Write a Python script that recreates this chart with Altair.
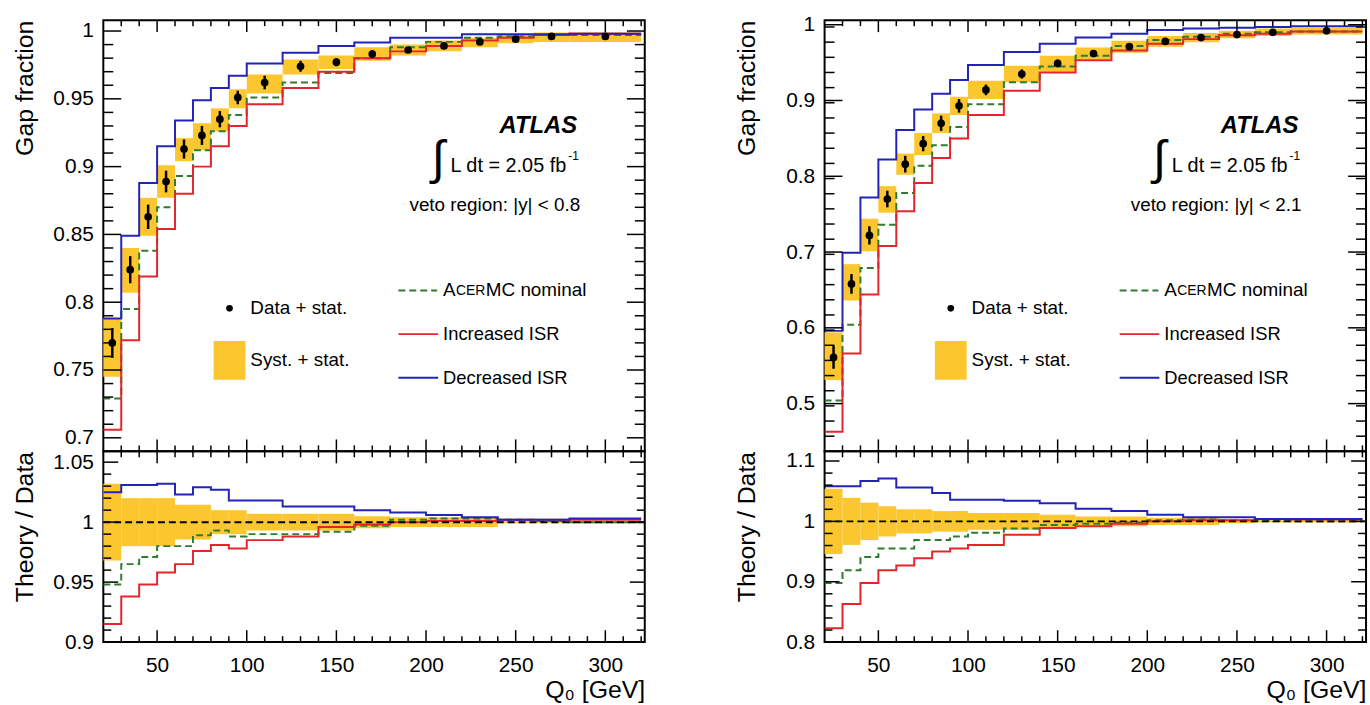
import altair as alt
import pandas as pd

FONT = "Liberation Sans, Arial, Helvetica, sans-serif"
YELLOW = "#FCC62E"
RED = "#E3262B"
BLUE = "#2323B8"
GREEN = "#2E7D2E"

W, HT, HR = 545, 434, 192
XDOM = [20, 322]

# ---------------- data ----------------
Q0 = [25, 35, 45, 55, 65, 75, 85, 95, 110, 130, 150, 170, 190, 210, 230, 250, 270, 300]
bin_lo = [20, 30, 40, 50, 60, 70, 80, 90, 100, 120, 140, 160, 180, 200, 220, 240, 260, 280]
bin_hi = [30, 40, 50, 60, 70, 80, 90, 100, 120, 140, 160, 180, 200, 220, 240, 260, 280, 320]

# veto region |y| < 0.8
L_data = [0.770, 0.824, 0.863, 0.889, 0.913, 0.923, 0.935, 0.951, 0.962, 0.974, 0.977, 0.983, 0.986, 0.989, 0.992, 0.994, 0.996, 0.996]
L_stat = [0.011, 0.010, 0.009, 0.008, 0.007, 0.007, 0.006, 0.005, 0.005, 0.004, 0.003, 0.003, 0.002, 0.002, 0.002, 0.002, 0.002, 0.002]
L_band_lo = [0.745, 0.807, 0.849, 0.877, 0.904, 0.912, 0.926, 0.943, 0.954, 0.968, 0.972, 0.978, 0.982, 0.985, 0.988, 0.991, 0.992, 0.992]
L_band_hi = [0.788, 0.840, 0.877, 0.901, 0.921, 0.932, 0.943, 0.957, 0.968, 0.979, 0.982, 0.988, 0.990, 0.993, 0.995, 0.997, 0.999, 0.999]
L_nom = [0.729, 0.795, 0.838, 0.870, 0.893, 0.912, 0.926, 0.938, 0.951, 0.962, 0.969, 0.980, 0.988, 0.992, 0.995, 0.996, 0.997, 0.997]
L_isr_up = [0.706, 0.772, 0.819, 0.854, 0.880, 0.900, 0.915, 0.930, 0.946, 0.958, 0.970, 0.980, 0.985, 0.989, 0.993, 0.995, 0.997, 0.998]
L_isr_down = [0.788, 0.849, 0.888, 0.915, 0.934, 0.949, 0.958, 0.967, 0.976, 0.984, 0.989, 0.9915, 0.995, 0.995, 0.9976, 0.9976, 0.9976, 0.998]
L_r_band_lo = [0.968, 0.980, 0.980, 0.980, 0.9855, 0.9855, 0.990, 0.990, 0.993, 0.993, 0.993, 0.995, 0.996, 0.996, 0.996, 0.999, 0.999, 0.999]
L_r_band_hi = [1.032, 1.020, 1.020, 1.020, 1.0145, 1.0145, 1.010, 1.010, 1.007, 1.007, 1.007, 1.005, 1.004, 1.004, 1.004, 1.001, 1.001, 1.001]
L_r_nom = [0.948, 0.965, 0.971, 0.980, 0.980, 0.989, 0.993, 0.988, 0.990, 0.990, 0.992, 0.997, 1.002, 1.003, 1.003, 1.002, 1.001, 1.000]
L_r_isr_up = [0.915, 0.938, 0.948, 0.958, 0.965, 0.976, 0.981, 0.978, 0.985, 0.988, 0.996, 0.998, 1.000, 1.001, 1.001, 1.002, 1.002, 1.002]
L_r_isr_down = [1.025, 1.031, 1.031, 1.032, 1.023, 1.029, 1.027, 1.018, 1.018, 1.013, 1.013, 1.010, 1.008, 1.006, 1.004, 1.002, 1.002, 1.003]

# veto region |y| < 2.1
R_data = [0.561, 0.658, 0.722, 0.770, 0.816, 0.843, 0.870, 0.893, 0.914, 0.935, 0.949, 0.962, 0.971, 0.978, 0.983, 0.987, 0.990, 0.992]
R_stat = [0.015, 0.013, 0.012, 0.011, 0.011, 0.010, 0.010, 0.009, 0.007, 0.006, 0.005, 0.004, 0.004, 0.003, 0.003, 0.002, 0.002, 0.002]
R_band_lo = [0.531, 0.636, 0.701, 0.752, 0.802, 0.828, 0.857, 0.881, 0.902, 0.924, 0.938, 0.954, 0.963, 0.971, 0.977, 0.982, 0.985, 0.987]
R_band_hi = [0.594, 0.684, 0.744, 0.787, 0.830, 0.857, 0.883, 0.905, 0.926, 0.946, 0.959, 0.970, 0.979, 0.985, 0.989, 0.992, 0.995, 0.996]
R_nom = [0.504, 0.604, 0.679, 0.736, 0.778, 0.814, 0.841, 0.865, 0.895, 0.924, 0.945, 0.959, 0.972, 0.980, 0.984, 0.988, 0.990, 0.991]
R_isr_up = [0.463, 0.566, 0.644, 0.708, 0.754, 0.791, 0.824, 0.850, 0.881, 0.913, 0.937, 0.953, 0.966, 0.975, 0.981, 0.986, 0.988, 0.991]
R_isr_down = [0.596, 0.699, 0.772, 0.822, 0.861, 0.888, 0.909, 0.927, 0.947, 0.964, 0.975, 0.983, 0.988, 0.993, 0.995, 0.996, 0.997, 0.998]
R_r_band_lo = [0.946, 0.961, 0.969, 0.975, 0.980, 0.980, 0.983, 0.983, 0.986, 0.986, 0.989, 0.992, 0.992, 0.994, 0.994, 0.997, 0.998, 0.998]
R_r_band_hi = [1.054, 1.039, 1.031, 1.025, 1.020, 1.020, 1.017, 1.017, 1.014, 1.014, 1.011, 1.008, 1.008, 1.006, 1.006, 1.003, 1.002, 1.002]
R_r_nom = [0.898, 0.919, 0.941, 0.955, 0.955, 0.969, 0.969, 0.975, 0.981, 0.988, 0.994, 0.996, 0.998, 1.002, 1.003, 1.002, 1.001, 1.000]
R_r_isr_up = [0.823, 0.863, 0.898, 0.919, 0.927, 0.939, 0.950, 0.955, 0.961, 0.978, 0.989, 0.992, 0.996, 1.000, 1.002, 1.002, 1.004, 1.003]
R_r_isr_down = [1.058, 1.058, 1.067, 1.071, 1.056, 1.056, 1.047, 1.036, 1.036, 1.034, 1.030, 1.021, 1.017, 1.011, 1.007, 1.007, 1.004, 1.004]

X_MAJOR = [50, 100, 150, 200, 250, 300]
X_MINOR = [v for v in range(30, 321, 10) if v % 50 != 0]


# ---------------- helpers ----------------
def step_df(vals):
    return pd.DataFrame({"x": bin_lo + [bin_hi[-1]], "v": list(vals) + [vals[-1]]})


def one():
    return alt.Data(values=[{"k": 0}])


def txt(s, x, y, size, align="left", **kw):
    return alt.Chart(one()).mark_text(
        text=s, align=align, baseline="middle", fontSize=size, font=FONT, color="black", **kw
    ).encode(x=alt.value(x), y=alt.value(y))


def minor_ticks(lo, hi, step, majors):
    out = []
    n = int(round((hi - lo) / step))
    for i in range(n + 1):
        v = round(lo + i * step, 4)
        if lo < v < hi and all(abs(v - m) > 1e-6 for m in majors):
            out.append(v)
    return out


class Enc:
    """Holds the shared x / y encodings (same scale and axis) for one panel."""

    def __init__(self, xs, xaxis, ys, yaxis):
        self.xs, self.xaxis, self.ys, self.yaxis = xs, xaxis, ys, yaxis

    def X(self, f):
        return alt.X(f, scale=self.xs, axis=self.xaxis)

    def Y(self, f):
        return alt.Y(f, scale=self.ys, axis=self.yaxis)


def y_ticks(vals, e, length, width):
    df = pd.DataFrame({"t": vals})
    base = alt.Chart(df).mark_rule(color="black", strokeWidth=1.5)
    return [
        base.encode(y=e.Y("t:Q"), x=alt.value(0), x2=alt.value(length)),
        base.encode(y=e.Y("t:Q"), x=alt.value(width), x2=alt.value(width - length)),
    ]


def x_ticks(vals, e, length, height):
    df = pd.DataFrame({"t": vals})
    base = alt.Chart(df).mark_rule(color="black", strokeWidth=1.5)
    return [
        base.encode(x=e.X("t:Q"), y=alt.value(height), y2=alt.value(height - length)),
        base.encode(x=e.X("t:Q"), y=alt.value(0), y2=alt.value(length)),
    ]


def hist_line(vals, e, color, dash=None, width=2):
    kw = {}
    if dash:
        kw["strokeDash"] = dash
    return alt.Chart(step_df(vals)).mark_line(
        interpolate="step-after", color=color, strokeWidth=width, clip=True, **kw
    ).encode(x=e.X("x:Q"), y=e.Y("v:Q"))


def top_panel(data, stat, blo, bhi, nom, up, down, ydom, ymaj, ystep, veto):
    xs = alt.Scale(domain=XDOM, nice=False, zero=False)
    ys = alt.Scale(domain=ydom, nice=False, zero=False)
    yaxis = alt.Axis(values=ymaj, format=".2~f", title="Gap fraction", titleAnchor="end",
                     titleX=-66)
    e = Enc(xs, None, ys, yaxis)
    df = pd.DataFrame({"lo": bin_lo, "hi": bin_hi, "q": Q0, "d": data,
                       "blo": blo, "bhi": bhi})
    df["elo"] = [d - s for d, s in zip(data, stat)]
    df["ehi"] = [d + s for d, s in zip(data, stat)]
    band = alt.Chart(df).mark_rect(color=YELLOW, opacity=1).encode(
        x=e.X("lo:Q"), x2="hi:Q", y=e.Y("blo:Q"), y2="bhi:Q")
    err = alt.Chart(df).mark_rule(color="black", strokeWidth=2.5).encode(
        x=e.X("q:Q"), y=e.Y("elo:Q"), y2="ehi:Q")
    pts = alt.Chart(df).mark_point(shape="circle", filled=True, size=60, color="black", opacity=1).encode(
        x=e.X("q:Q"), y=e.Y("d:Q"))
    layers = [band,
              hist_line(nom, e, GREEN, dash=[7, 4]),
              hist_line(up, e, RED),
              hist_line(down, e, BLUE),
              err, pts]
    layers += y_ticks(ymaj, e, 18, W)
    layers += y_ticks(minor_ticks(ydom[0], ydom[1], ystep, ymaj), e, 10, W)
    layers += x_ticks(X_MAJOR, e, 12, HT)
    layers += x_ticks(X_MINOR, e, 6, HT)
    # annotations
    layers += [
        alt.Chart(one()).mark_point(shape="circle", filled=True, size=45, color="black", opacity=1).encode(
            x=alt.value(127), y=alt.value(290)),
        txt("Data + stat.", 148, 290, 19),
        alt.Chart(one()).mark_rect(color=YELLOW).encode(
            x=alt.value(111), x2=alt.value(143), y=alt.value(323), y2=alt.value(362)),
        txt("Syst. + stat.", 148, 342, 19),
        alt.Chart(one()).mark_rule(color=GREEN, strokeWidth=2, strokeDash=[7, 4]).encode(
            x=alt.value(297), x2=alt.value(336), y=alt.value(272)),
        txt("A", 342, 272, 19),
        txt("CER", 355, 273, 14),
        txt("MC nominal", 385, 272, 19),
        alt.Chart(one()).mark_rule(color=RED, strokeWidth=2).encode(
            x=alt.value(297), x2=alt.value(337), y=alt.value(316)),
        txt("Increased ISR", 342, 316, 18.5),
        alt.Chart(one()).mark_rule(color=BLUE, strokeWidth=2).encode(
            x=alt.value(297), x2=alt.value(337), y=alt.value(360)),
        txt("Decreased ISR", 342, 360, 18.5),
        txt("ATLAS", 477, 107, 24, align="right", fontWeight="bold", fontStyle="italic"),
        txt("\u222b", 337, 141, 48, align="center"),
        txt("L dt = 2.05 fb", 466, 147, 20, align="right"),
        txt("-1", 468, 137, 12),
        txt(veto, 480, 186, 19, align="right"),
    ]
    return alt.layer(*layers).properties(width=W, height=HT)


def ratio_panel(blo, bhi, nom, up, down, ydom, ymaj, ystep):
    xs = alt.Scale(domain=XDOM, nice=False, zero=False)
    ys = alt.Scale(domain=ydom, nice=False, zero=False)
    yaxis = alt.Axis(values=ymaj, format=".2~f", title="Theory / Data", titleAnchor="end",
                     titleX=-66)
    xaxis = alt.Axis(values=X_MAJOR, format="d", title="Q\u2080 [GeV]", titleAnchor="end",
                     labelPadding=13, titlePadding=2)
    e = Enc(xs, xaxis, ys, yaxis)
    df = pd.DataFrame({"lo": bin_lo, "hi": bin_hi, "blo": blo, "bhi": bhi})
    band = alt.Chart(df).mark_rect(color=YELLOW, opacity=1).encode(
        x=e.X("lo:Q"), x2="hi:Q", y=e.Y("blo:Q"), y2="bhi:Q")
    one_line = alt.Chart(pd.DataFrame({"r": [1.0]})).mark_rule(
        color="black", strokeWidth=2, strokeDash=[7, 4]).encode(
        y=e.Y("r:Q"), x=alt.value(0), x2=alt.value(W))
    layers = [band,
              hist_line(nom, e, GREEN, dash=[7, 4]),
              hist_line(up, e, RED),
              hist_line(down, e, BLUE),
              one_line]
    layers += y_ticks(ymaj, e, 15, W)
    layers += y_ticks(minor_ticks(ydom[0], ydom[1], ystep, ymaj), e, 8, W)
    layers += x_ticks(X_MAJOR, e, 12, HR)
    layers += x_ticks(X_MINOR, e, 6, HR)
    return alt.layer(*layers).properties(width=W, height=HR)


left = alt.vconcat(
    top_panel(L_data, L_stat, L_band_lo, L_band_hi, L_nom, L_isr_up, L_isr_down,
              [0.69, 1.008], [0.7, 0.75, 0.8, 0.85, 0.9, 0.95, 1.0], 0.01,
              "veto region: |y| < 0.8"),
    ratio_panel(L_r_band_lo, L_r_band_hi, L_r_nom, L_r_isr_up, L_r_isr_down,
                [0.9, 1.059], [0.9, 0.95, 1.0, 1.05], 0.01),
    spacing=0, bounds="flush",
).resolve_scale(x="independent", y="independent")

right = alt.vconcat(
    top_panel(R_data, R_stat, R_band_lo, R_band_hi, R_nom, R_isr_up, R_isr_down,
              [0.437, 1.006], [0.5, 0.6, 0.7, 0.8, 0.9, 1.0], 0.02,
              "veto region: |y| < 2.1"),
    ratio_panel(R_r_band_lo, R_r_band_hi, R_r_nom, R_r_isr_up, R_r_isr_down,
                [0.8, 1.116], [0.8, 0.9, 1.0, 1.1], 0.02),
    spacing=0, bounds="flush",
).resolve_scale(x="independent", y="independent")

chart = alt.hconcat(left, right, spacing=86).resolve_scale(
    x="independent", y="independent"
).properties(
    padding={"left": 11, "top": 10, "right": 2, "bottom": 0},
    background="white",
).configure_view(
    stroke="black", strokeWidth=2
).configure_axis(
    labelFont=FONT, titleFont=FONT, labelFontSize=21, titleFontSize=25,
    titleFontWeight="normal", labelColor="black", titleColor="black",
    ticks=False, tickSize=0, domain=False, grid=False, labelPadding=10,
)

chart.save("out.html", embed_options={"renderer": "svg", "actions": False})
